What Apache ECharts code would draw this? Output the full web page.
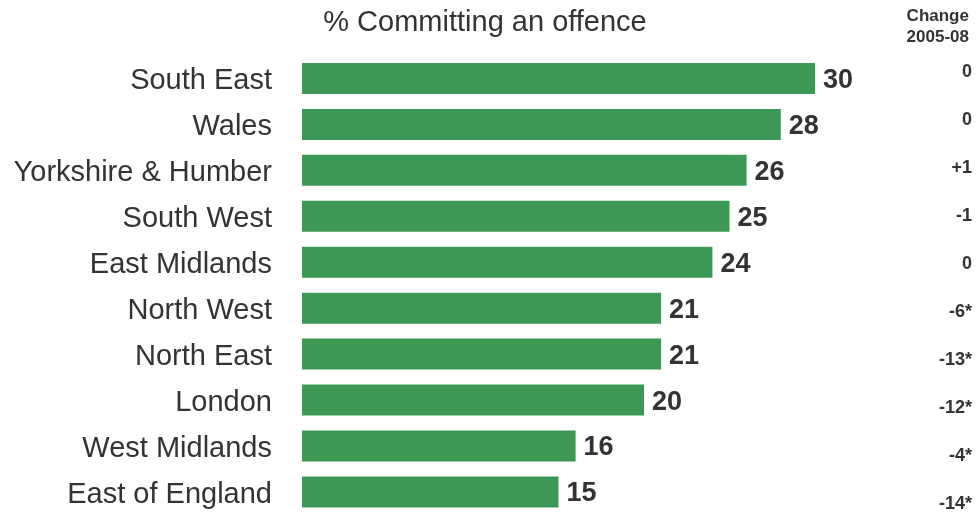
<!DOCTYPE html>
<html>
<head>
<meta charset="utf-8">
<style>
  html, body { margin: 0; padding: 0; background: #fff; }
  #chart { width: 978px; height: 512px; }
</style>
<script src="https://cdn.jsdelivr.net/npm/echarts@6/dist/echarts.min.js"></script>
</head>
<body>
<div id="chart"></div>
<script>
// Regions, top to bottom
const regions = ['South East', 'Wales', 'Yorkshire & Humber', 'South West', 'East Midlands',
  'North West', 'North East', 'London', 'West Midlands', 'East of England'];
// % committing an offence
const offencePct = [30, 28, 26, 25, 24, 21, 21, 20, 16, 15];
// Change 2005-08 (percentage points, * = significant)
const change0508 = ['0', '0', '+1', '-1', '0', '-6*', '-13*', '-12*', '-4*', '-14*'];

const textColor = '#333333';
const font = 'Liberation Sans, Arial, Helvetica, sans-serif';

const chart = echarts.init(document.getElementById('chart'));
chart.setOption({
  animation: false,
  backgroundColor: '#ffffff',
  title: [
    {
      text: '% Committing an offence',
      left: 485, top: 8, textAlign: 'center', padding: 0,
      textStyle: { fontFamily: font, fontSize: 29, fontWeight: 'normal', color: textColor }
    },
    {
      text: 'Change\n2005-08',
      right: 9, top: 6, padding: 0,
      textStyle: { fontFamily: font, fontSize: 17, fontWeight: 'bold', color: textColor, lineHeight: 21 }
    }
  ],
  grid: [
    { left: 302, top: 55.5, width: 513, height: 459.4, outerBoundsMode: 'none', containLabel: false },
    { left: 900, top: 47.5, width: 72, height: 481, outerBoundsMode: 'none', containLabel: false }
  ],
  xAxis: [
    { gridIndex: 0, type: 'value', min: 0, max: 30, show: false },
    { gridIndex: 1, type: 'value', min: 0, max: 1, show: false }
  ],
  yAxis: [
    {
      gridIndex: 0, type: 'category', data: regions, inverse: true,
      axisLine: { show: false }, axisTick: { show: false },
      // region names sit a few pixels below the bar centre line
      axisLabel: { fontFamily: font, fontSize: 29, color: textColor, margin: 30,
        verticalAlign: 'top', lineHeight: 6 }
    },
    {
      gridIndex: 1, type: 'category', data: change0508, inverse: true, position: 'right',
      axisLine: { show: false }, axisTick: { show: false },
      axisLabel: { fontFamily: font, fontSize: 18, fontWeight: 'bold', color: textColor,
        align: 'right', margin: 0 }
    }
  ],
  series: [
    {
      type: 'bar', xAxisIndex: 0, yAxisIndex: 0,
      data: offencePct,
      barCategoryGap: '32.5%',
      itemStyle: { color: '#3d9856' },
      label: {
        show: true, position: 'right', distance: 8,
        verticalAlign: 'top', lineHeight: 4,
        fontFamily: font, fontSize: 27, fontWeight: 'bold', color: textColor
      }
    },
    {
      type: 'bar', xAxisIndex: 1, yAxisIndex: 1,
      data: change0508.map(() => 0),
      silent: true
    }
  ]
});
</script>
</body>
</html>
